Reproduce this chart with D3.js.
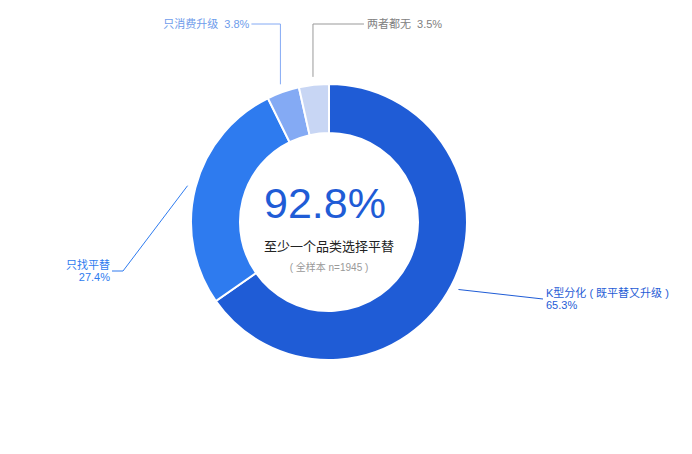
<!DOCTYPE html>
<html>
<head>
<meta charset="utf-8">
<script src="https://cdn.jsdelivr.net/npm/d3@7/dist/d3.min.js"></script>
<style>
  html, body { margin: 0; padding: 0; background: #fff; }
  text { font-family: "Liberation Sans", Arial, "Noto Sans CJK SC", sans-serif; white-space: pre; }
</style>
</head>
<body>
<div id="chart"></div>
<script>
// data
var names = ["K型分化 ( 既平替又升级 )", "只找平替", "只消费升级", "两者都无"];
var values = [65.3, 27.4, 3.8, 3.5];
var sliceColors = ["#1F5CD6", "#2E7BEF", "#84AAF4", "#C8D6F4"];
var labelColors = ["#1F5CD6", "#2E7BEF", "#6E9CEB", "#808080"];
var lineColors = ["#1F5CD6", "#2E7BEF", "#84AAF4", "#999999"];
var centerValue = "92.8%";
var centerTitle = "至少一个品类选择平替";
var centerNote = "( 全样本 n=1945 )";

var width = 692, height = 454;
var cx = 329, cy = 222;
var outerR = 138, innerR = 89, lineR = 146;

// label layout: elbow point and horizontal tail (dx), text side
var labelLayout = [
    { elbow: [543, 299], dx: 0, anchor: "start", twoLines: true },
    { elbow: [123, 271], dx: -11, anchor: "end", twoLines: true },
    { elbow: null, elbowY: 24, dx: -29, anchor: "end", twoLines: false },
    { elbow: null, elbowY: 24, dx: 51, anchor: "start", twoLines: false }
];

var svg = d3.select("#chart")
    .append("svg")
    .attr("width", width)
    .attr("height", height);

var g = svg.append("g")
    .attr("transform", "translate(" + cx + "," + cy + ")");

var pie = d3.pie().sort(null).value(function (d) { return d; });
var arcs = pie(values);

var arc = d3.arc().innerRadius(innerR).outerRadius(outerR);

g.selectAll("path.slice")
    .data(arcs)
    .enter()
    .append("path")
    .attr("class", "slice")
    .attr("d", arc)
    .attr("fill", function (d, i) { return sliceColors[i]; })
    .attr("stroke", "#fff")
    .attr("stroke-width", 2);

// leader lines + labels
arcs.forEach(function (d, i) {
    var mid = (d.startAngle + d.endAngle) / 2;
    var sx = cx + lineR * Math.sin(mid);
    var sy = cy - lineR * Math.cos(mid);
    var L = labelLayout[i];
    var ex = L.elbow ? L.elbow[0] : sx;
    var ey = L.elbow ? L.elbow[1] : L.elbowY;
    var tx = ex + L.dx;
    svg.append("polyline")
        .attr("points", [[sx, sy], [ex, ey], [tx, ey]].map(function (p) { return p.join(","); }).join(" "))
        .attr("fill", "none")
        .attr("stroke", lineColors[i])
        .attr("stroke-width", 1);

    var textX = tx + (L.anchor === "start" ? 3 : -2);
    var t = svg.append("text")
        .attr("text-anchor", L.anchor)
        .attr("fill", labelColors[i])
        .style("font-size", "11px");
    if (L.twoLines) {
        t.append("tspan").attr("x", textX).attr("y", ey - 2).text(names[i]);
        t.append("tspan").attr("x", textX).attr("y", ey + 10).text(values[i].toFixed(1) + "%");
    } else {
        t.attr("x", textX).attr("y", ey + 4)
            .text(names[i] + "  " + values[i].toFixed(1) + "%");
    }
});

// center text
svg.append("text")
    .attr("x", cx - 4)
    .attr("y", 218)
    .attr("text-anchor", "middle")
    .attr("fill", "#1F5CD6")
    .style("font-size", "43px")
    .text(centerValue);

svg.append("text")
    .attr("x", cx)
    .attr("y", 251)
    .attr("text-anchor", "middle")
    .attr("fill", "#222")
    .style("font-size", "13px")
    .text(centerTitle);

svg.append("text")
    .attr("x", cx)
    .attr("y", 271)
    .attr("text-anchor", "middle")
    .attr("fill", "#999")
    .style("font-size", "10px")
    .text(centerNote);
</script>
</body>
</html>
